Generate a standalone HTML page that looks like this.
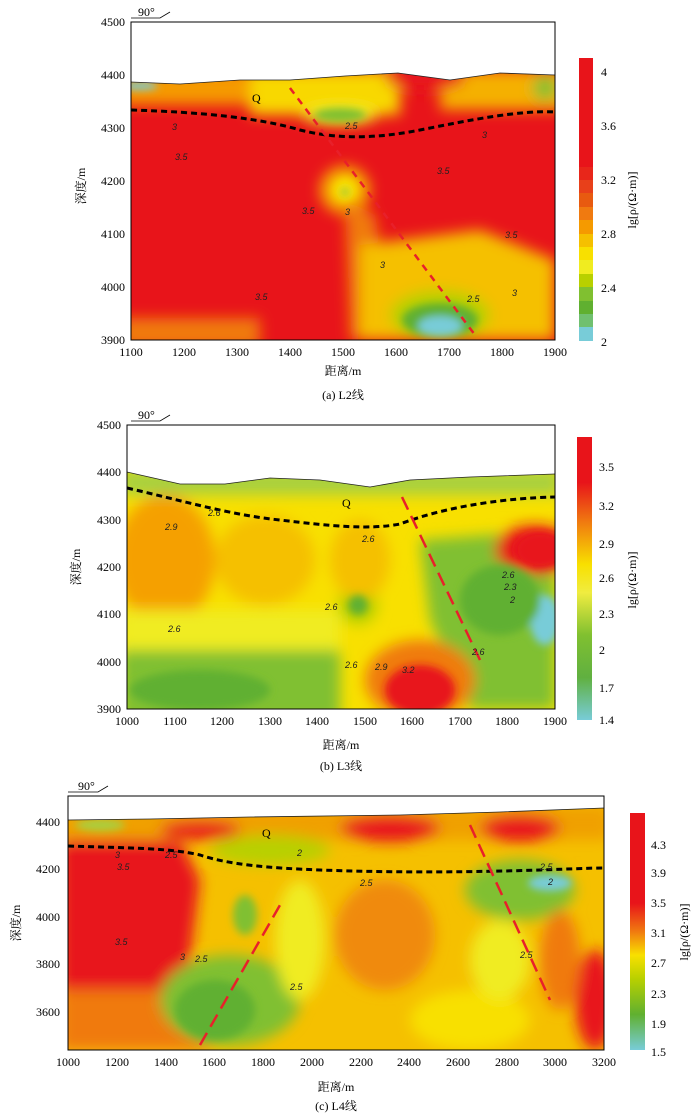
<!DOCTYPE html>
<html><head><meta charset="utf-8"><style>
body{margin:0;background:#fff;width:700px;height:1114px;overflow:hidden}
svg{font-family:"Liberation Serif","Noto Serif CJK SC",serif}
.t{font-size:12px;fill:#000}
.c{font-size:9px;font-family:"Liberation Sans",sans-serif;font-style:italic;fill:#222}
</style></head><body>
<svg width="700" height="1114" viewBox="0 0 700 1114">
<defs>
<filter id="b" x="-20%" y="-20%" width="140%" height="140%"><feGaussianBlur stdDeviation="7"/></filter>
<filter id="b2" x="-20%" y="-20%" width="140%" height="140%"><feGaussianBlur stdDeviation="4"/></filter>
<clipPath id="ca"><polygon points="131,82 180,84 240,80 290,80 345,76 398,73 450,80 500,73 555,75 555,340 131,340"/></clipPath>
<clipPath id="cb"><polygon points="127,472 180,484 225,484 270,478 320,480 370,487 410,480 470,477 555,474 555,709 127,709"/></clipPath>
<clipPath id="cc"><polygon points="68,820 150,819 250,817 400,815 500,812 604,808 604,1050 68,1050"/></clipPath>
</defs>

<!-- Panel A -->
<g clip-path="url(#ca)">
<rect x="120" y="60" width="450" height="290" fill="#e8141a"/>
<g filter="url(#b)">
<rect x="120" y="70" width="140" height="35" fill="#f59a00"/>
<rect x="250" y="70" width="150" height="45" fill="#f8d800"/>
<rect x="440" y="70" width="130" height="40" fill="#f5b000"/>
<ellipse cx="340" cy="115" rx="38" ry="10" fill="#f0ec20"/>
<ellipse cx="425" cy="78" rx="40" ry="12" fill="#e8141a"/>
<ellipse cx="545" cy="88" rx="12" ry="12" fill="#80c030"/>
<ellipse cx="345" cy="190" rx="25" ry="24" fill="#f5b000"/>
<polygon points="345,200 375,215 395,340 350,340" fill="#f07a10"/>
<polygon points="360,245 480,230 555,260 555,340 360,340" fill="#f5c000"/>
<ellipse cx="440" cy="315" rx="50" ry="25" fill="#b8d000"/>
<rect x="120" y="318" width="140" height="30" fill="#f07a10"/>
</g>
<g filter="url(#b2)">
<ellipse cx="340" cy="115" rx="26" ry="7" fill="#80c030"/>
<ellipse cx="345" cy="190" rx="12" ry="12" fill="#f8e000"/>
<ellipse cx="440" cy="320" rx="38" ry="17" fill="#60b030"/>
<ellipse cx="440" cy="326" rx="22" ry="10" fill="#78ccd8"/>
<ellipse cx="140" cy="86" rx="18" ry="4" fill="#78ccd8"/>
<ellipse cx="345" cy="192" rx="4" ry="4" fill="#80c030"/>
</g>
</g>
<polyline points="131,82 180,84 240,80 290,80 345,76 398,73 450,80 500,73 555,75" fill="none" stroke="#222" stroke-width="0.8"/>
<path d="M131,110 C200,112 260,118 300,130 C340,140 380,138 420,130 C470,120 520,110 555,112" fill="none" stroke="#000" stroke-width="3" stroke-dasharray="6,4"/>
<line x1="290" y1="88" x2="475" y2="335" stroke="#e8202a" stroke-width="2.5" stroke-dasharray="7,6"/>
<rect x="131" y="22" width="424" height="318" fill="none" stroke="#000" stroke-width="1"/>
<text class="t" x="252" y="102">Q</text>
<text class="c" x="172" y="130">3</text><text class="c" x="345" y="129">2.5</text><text class="c" x="482" y="138">3</text>
<text class="c" x="175" y="160">3.5</text><text class="c" x="437" y="174">3.5</text><text class="c" x="302" y="214">3.5</text>
<text class="c" x="345" y="215">3</text><text class="c" x="505" y="238">3.5</text><text class="c" x="380" y="268">3</text>
<text class="c" x="255" y="300">3.5</text><text class="c" x="467" y="302">2.5</text><text class="c" x="512" y="296">3</text>
<g class="t" text-anchor="end">
<text x="125" y="26">4500</text><text x="125" y="79">4400</text><text x="125" y="132">4300</text><text x="125" y="185">4200</text><text x="125" y="238">4100</text><text x="125" y="291">4000</text><text x="125" y="344">3900</text>
</g>
<g class="t" text-anchor="middle">
<text x="131" y="356">1100</text><text x="184" y="356">1200</text><text x="237" y="356">1300</text><text x="290" y="356">1400</text><text x="343" y="356">1500</text><text x="396" y="356">1600</text><text x="449" y="356">1700</text><text x="502" y="356">1800</text><text x="555" y="356">1900</text>
<text x="343" y="375">距离/m</text><text x="343" y="399">(a) L2线</text>
</g>
<text class="t" x="85" y="186" transform="rotate(-90 85 186)" text-anchor="middle">深度/m</text>
<text class="t" x="138" y="16">90°</text><polyline points="131,18 160,18 170,12" fill="none" stroke="#000" stroke-width="0.8"/>
<g>
<rect x="579" y="58" width="14" height="109" fill="#e8141a"/>
<rect x="579" y="167" width="14" height="14" fill="#e8261a"/><rect x="579" y="180" width="14" height="14" fill="#e8401a"/>
<rect x="579" y="193" width="14" height="14" fill="#e85a10"/><rect x="579" y="207" width="14" height="14" fill="#f07a10"/>
<rect x="579" y="220" width="14" height="14" fill="#f59a00"/><rect x="579" y="234" width="14" height="14" fill="#f5c000"/>
<rect x="579" y="247" width="14" height="14" fill="#f8e000"/><rect x="579" y="260" width="14" height="14" fill="#f0ec20"/>
<rect x="579" y="274" width="14" height="14" fill="#b8d000"/><rect x="579" y="287" width="14" height="14" fill="#80c030"/>
<rect x="579" y="301" width="14" height="14" fill="#60b030"/><rect x="579" y="314" width="14" height="14" fill="#70c070"/>
<rect x="579" y="327" width="14" height="14" fill="#78ccd8"/>
</g>
<g class="t"><text x="601" y="76">4</text><text x="601" y="130">3.6</text><text x="601" y="184">3.2</text><text x="601" y="238">2.8</text><text x="601" y="292">2.4</text><text x="601" y="346">2</text></g>
<text class="t" x="636" y="200" transform="rotate(-90 636 200)" text-anchor="middle">lg[ρ/(Ω·m)]</text>

<!-- Panel B -->
<g clip-path="url(#cb)">
<rect x="120" y="465" width="450" height="250" fill="#f8e000"/>
<g filter="url(#b)">
<ellipse cx="165" cy="560" rx="50" ry="65" fill="#f5a000"/>
<ellipse cx="265" cy="560" rx="50" ry="45" fill="#f5c000"/>
<rect x="120" y="640" width="220" height="80" fill="#80c030"/>
<rect x="120" y="610" width="220" height="40" fill="#f0ec20"/>
<polygon points="420,540 555,530 555,709 470,709 430,620" fill="#80c030"/>
<ellipse cx="535" cy="550" rx="40" ry="25" fill="#e8141a"/>
<ellipse cx="420" cy="680" rx="55" ry="40" fill="#f07a10"/>
<ellipse cx="358" cy="605" rx="20" ry="20" fill="#b8d000"/>
<rect x="120" y="470" width="440" height="25" fill="#a8d040"/>
<ellipse cx="360" cy="560" rx="30" ry="40" fill="#f5c000"/>
</g>
<g filter="url(#b2)">
<ellipse cx="420" cy="690" rx="35" ry="25" fill="#e8141a"/>
<ellipse cx="540" cy="550" rx="25" ry="18" fill="#e8141a"/>
<ellipse cx="545" cy="620" rx="15" ry="25" fill="#78ccd8"/>
<ellipse cx="358" cy="605" rx="10" ry="10" fill="#60b030"/>
<ellipse cx="200" cy="690" rx="70" ry="20" fill="#60b030"/>
<ellipse cx="500" cy="600" rx="40" ry="35" fill="#60b030"/>
</g>
</g>
<polyline points="127,472 180,484 225,484 270,478 320,480 370,487 410,480 470,477 555,474" fill="none" stroke="#222" stroke-width="0.8"/>
<path d="M127,488 C180,500 230,515 280,520 C330,526 370,530 400,524 C450,505 510,498 555,497" fill="none" stroke="#000" stroke-width="3" stroke-dasharray="6,4"/>
<line x1="402" y1="497" x2="480" y2="660" stroke="#e8202a" stroke-width="2.5" stroke-dasharray="14,7"/>
<rect x="127" y="425" width="428" height="284" fill="none" stroke="#000" stroke-width="1"/>
<text class="t" x="342" y="507">Q</text>
<text class="c" x="165" y="530">2.9</text><text class="c" x="208" y="516">2.6</text><text class="c" x="362" y="542">2.6</text>
<text class="c" x="808" y="0" visibility="hidden">.</text>
<text class="c" x="502" y="578">2.6</text><text class="c" x="504" y="590">2.3</text><text class="c" x="510" y="603">2</text>
<text class="c" x="168" y="632">2.6</text><text class="c" x="325" y="610">2.6</text><text class="c" x="345" y="668">2.6</text>
<text class="c" x="375" y="670">2.9</text><text class="c" x="402" y="673">3.2</text><text class="c" x="472" y="655">2.6</text>
<g class="t" text-anchor="end">
<text x="121" y="429">4500</text><text x="121" y="476">4400</text><text x="121" y="524">4300</text><text x="121" y="571">4200</text><text x="121" y="618">4100</text><text x="121" y="666">4000</text><text x="121" y="713">3900</text>
</g>
<g class="t" text-anchor="middle">
<text x="127" y="725">1000</text><text x="175" y="725">1100</text><text x="222" y="725">1200</text><text x="270" y="725">1300</text><text x="317" y="725">1400</text><text x="365" y="725">1500</text><text x="412" y="725">1600</text><text x="460" y="725">1700</text><text x="507" y="725">1800</text><text x="555" y="725">1900</text>
<text x="341" y="749">距离/m</text><text x="341" y="770">(b) L3线</text>
</g>
<text class="t" x="80" y="567" transform="rotate(-90 80 567)" text-anchor="middle">深度/m</text>
<text class="t" x="138" y="419">90°</text><polyline points="131,421 160,421 170,415" fill="none" stroke="#000" stroke-width="0.8"/>
<defs><linearGradient id="gb" x1="0" y1="0" x2="0" y2="1">
<stop offset="0" stop-color="#e8141a"/><stop offset="0.16" stop-color="#e8141a"/><stop offset="0.3" stop-color="#f07a10"/><stop offset="0.45" stop-color="#f8e000"/><stop offset="0.55" stop-color="#f0ec40"/><stop offset="0.7" stop-color="#80c030"/><stop offset="0.85" stop-color="#60b040"/><stop offset="1" stop-color="#78ccd8"/></linearGradient></defs>
<rect x="577" y="437" width="15" height="283" fill="url(#gb)"/>
<g class="t"><text x="599" y="471">3.5</text><text x="599" y="510">3.2</text><text x="599" y="548">2.9</text><text x="599" y="582">2.6</text><text x="599" y="618">2.3</text><text x="599" y="654">2</text><text x="599" y="692">1.7</text><text x="599" y="724">1.4</text></g>
<text class="t" x="636" y="580" transform="rotate(-90 636 580)" text-anchor="middle">lg[ρ/(Ω·m)]</text>

<!-- Panel C -->
<g clip-path="url(#cc)">
<rect x="60" y="800" width="550" height="260" fill="#f5c000"/>
<g filter="url(#b)">
<polygon points="60,835 180,840 200,880 190,960 180,990 60,1000" fill="#e8141a"/>
<rect x="60" y="990" width="150" height="60" fill="#f07a10"/>
<rect x="60" y="805" width="550" height="35" fill="#f0a000"/>
<ellipse cx="200" cy="830" rx="40" ry="10" fill="#e8141a"/>
<ellipse cx="390" cy="828" rx="50" ry="14" fill="#e8141a"/>
<ellipse cx="520" cy="828" rx="40" ry="14" fill="#e8141a"/>
<ellipse cx="270" cy="850" rx="60" ry="15" fill="#b8d000"/>
<ellipse cx="520" cy="890" rx="55" ry="30" fill="#80c030"/>
<ellipse cx="230" cy="1000" rx="70" ry="45" fill="#80c030"/>
<ellipse cx="385" cy="935" rx="50" ry="55" fill="#f08a10"/>
<ellipse cx="300" cy="940" rx="25" ry="60" fill="#f0ec20"/>
<ellipse cx="470" cy="1020" rx="60" ry="30" fill="#f8e000"/>
<ellipse cx="595" cy="1000" rx="20" ry="50" fill="#e8141a"/>
<ellipse cx="560" cy="960" rx="20" ry="50" fill="#f07a10"/>
<ellipse cx="500" cy="960" rx="30" ry="40" fill="#f0ec20"/>
</g>
<g filter="url(#b2)">
<ellipse cx="550" cy="883" rx="22" ry="8" fill="#78ccd8"/>
<ellipse cx="215" cy="1010" rx="40" ry="30" fill="#60b030"/>
<ellipse cx="245" cy="915" rx="12" ry="20" fill="#80c030"/>
<ellipse cx="100" cy="825" rx="25" ry="6" fill="#a8d040"/>
</g>
</g>
<polyline points="68,820 150,819 250,817 400,815 500,812 604,808" fill="none" stroke="#222" stroke-width="0.8"/>
<path d="M68,846 C130,848 170,848 200,855 C230,865 270,868 320,870 C400,873 480,872 540,870 C570,869 590,868 604,868" fill="none" stroke="#000" stroke-width="3" stroke-dasharray="6,4"/>
<line x1="200" y1="1045" x2="280" y2="905" stroke="#e8202a" stroke-width="2.5" stroke-dasharray="14,7"/>
<line x1="470" y1="825" x2="550" y2="1000" stroke="#e8202a" stroke-width="2.5" stroke-dasharray="14,7"/>
<rect x="68" y="796" width="536" height="254" fill="none" stroke="#000" stroke-width="1"/>
<text class="t" x="262" y="837">Q</text>
<text class="c" x="115" y="858">3</text><text class="c" x="117" y="870">3.5</text><text class="c" x="165" y="858">2.5</text><text class="c" x="297" y="856">2</text>
<text class="c" x="360" y="886">2.5</text><text class="c" x="540" y="870">2.5</text><text class="c" x="548" y="885">2</text>
<text class="c" x="115" y="945">3.5</text><text class="c" x="180" y="960">3</text><text class="c" x="195" y="962">2.5</text>
<text class="c" x="290" y="990">2.5</text><text class="c" x="520" y="958">2.5</text>
<g class="t" text-anchor="end">
<text x="60" y="826">4400</text><text x="60" y="873">4200</text><text x="60" y="921">4000</text><text x="60" y="968">3800</text><text x="60" y="1016">3600</text>
</g>
<g class="t" text-anchor="middle">
<text x="68" y="1066">1000</text><text x="117" y="1066">1200</text><text x="166" y="1066">1400</text><text x="214" y="1066">1600</text><text x="263" y="1066">1800</text><text x="312" y="1066">2000</text><text x="361" y="1066">2200</text><text x="409" y="1066">2400</text><text x="458" y="1066">2600</text><text x="507" y="1066">2800</text><text x="555" y="1066">3000</text><text x="604" y="1066">3200</text>
<text x="336" y="1091">距离/m</text><text x="336" y="1110">(c) L4线</text>
</g>
<text class="t" x="20" y="923" transform="rotate(-90 20 923)" text-anchor="middle">深度/m</text>
<text class="t" x="78" y="790">90°</text><polyline points="68,792 98,792 108,786" fill="none" stroke="#000" stroke-width="0.8"/>
<defs><linearGradient id="gc" x1="0" y1="0" x2="0" y2="1">
<stop offset="0" stop-color="#e8141a"/><stop offset="0.38" stop-color="#e8141a"/><stop offset="0.5" stop-color="#f07a10"/><stop offset="0.6" stop-color="#f8e000"/><stop offset="0.7" stop-color="#b8d000"/><stop offset="0.85" stop-color="#60b030"/><stop offset="1" stop-color="#78ccd8"/></linearGradient></defs>
<rect x="630" y="813" width="15" height="237" fill="url(#gc)"/>
<g class="t"><text x="651" y="849">4.3</text><text x="651" y="877">3.9</text><text x="651" y="907">3.5</text><text x="651" y="937">3.1</text><text x="651" y="967">2.7</text><text x="651" y="998">2.3</text><text x="651" y="1028">1.9</text><text x="651" y="1056">1.5</text></g>
<text class="t" x="688" y="932" transform="rotate(-90 688 932)" text-anchor="middle">lg[ρ/(Ω·m)]</text>
</svg>
</body></html>
